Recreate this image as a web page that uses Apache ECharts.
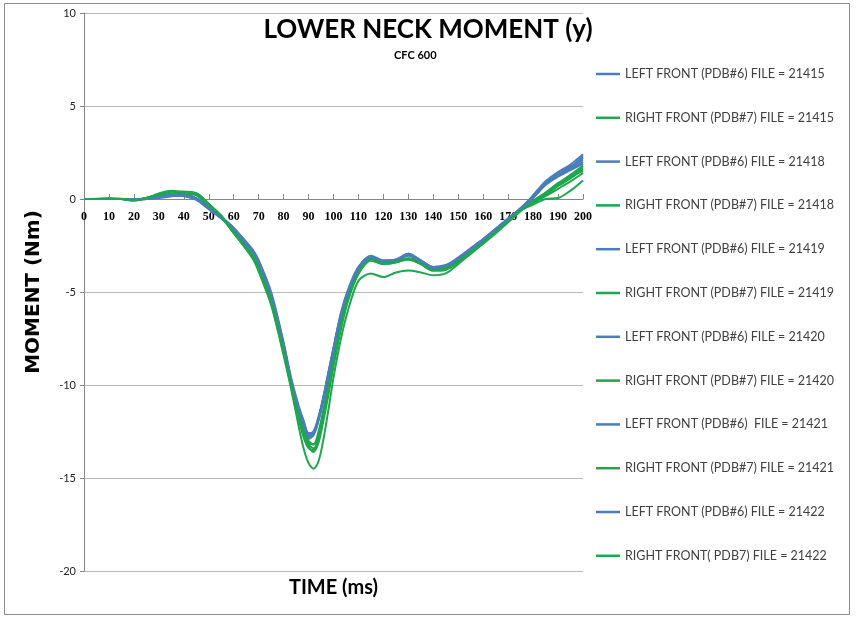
<!DOCTYPE html>
<html>
<head>
<meta charset="utf-8">
<title>LOWER NECK MOMENT (y)</title>
<script src="https://cdn.jsdelivr.net/npm/echarts@6/dist/echarts.min.js"></script>
<style>
    html, body {margin: 0; padding: 0; background: #fff;}
    #chart {width: 856px; height: 620px;}
</style>
</head>
<body>
<div id="chart"></div>
<script>
// time (ms)
let time = [0, 5, 10, 15, 20, 25, 30, 35, 40, 45, 50, 55, 60, 65, 68, 70, 75, 80, 83, 86, 88, 90, 92, 94, 96, 98,
    100, 103, 106, 110, 115, 120, 125, 130, 135, 140, 145, 150, 155, 160, 165, 170, 175, 180, 185, 190, 195, 200];

// moment (Nm), one list per test
let left21415 = [0, 0, 0, 0, 0, 0, 0.1, 0.2, 0.2, 0, -0.5, -1.0, -1.6, -2.4, -2.9, -3.4, -5.2, -7.9, -9.8, -11.3, -12.1, -12.7, -12.5, -11.7, -10.6, -9.3,
    -8.0, -6.2, -4.9, -3.7, -3.1, -3.35, -3.3, -3.0, -3.35, -3.7, -3.6, -3.2, -2.7, -2.2, -1.65, -1.1, -0.55, 0.1, 0.8, 1.3, 1.7, 2.3];
let right21415 = [0, 0, 0, 0, -0.05, 0.05, 0.25, 0.4, 0.35, 0.3, -0.3, -0.9, -1.8, -2.6, -3.1, -3.8, -5.5, -8.2, -10.0, -11.6, -12.5, -13.1, -13.2, -12.5, -11.3, -9.9,
    -8.5, -6.6, -5.1, -3.9, -3.2, -3.45, -3.35, -3.2, -3.45, -3.8, -3.75, -3.35, -2.85, -2.3, -1.75, -1.15, -0.55, -0.1, 0.3, 0.8, 1.2, 1.7];
let left21418 = [0, 0, 0.05, 0, 0, 0, 0.15, 0.25, 0.25, 0.05, -0.45, -0.95, -1.55, -2.35, -2.85, -3.3, -5.1, -7.8, -9.7, -11.2, -12.0, -12.6, -12.6, -11.9, -10.8, -9.5,
    -8.2, -6.3, -5.0, -3.75, -3.1, -3.3, -3.25, -2.95, -3.3, -3.65, -3.6, -3.15, -2.65, -2.15, -1.6, -1.05, -0.5, 0.2, 0.95, 1.45, 1.85, 2.4];
let right21418 = [0, 0.02, 0, 0, -0.05, 0.05, 0.2, 0.35, 0.35, 0.25, -0.35, -1.0, -1.8, -2.7, -3.2, -3.8, -5.6, -8.3, -10.1, -11.8, -12.8, -13.4, -13.5, -12.8, -11.6, -10.2,
    -8.8, -6.8, -5.3, -4.0, -3.3, -3.5, -3.4, -3.25, -3.5, -3.85, -3.8, -3.4, -2.9, -2.35, -1.8, -1.2, -0.6, -0.15, 0.2, 0.7, 1.1, 1.6];
let left21419 = [0, 0, 0, 0.02, -0.05, 0, 0.1, 0.2, 0.15, -0.05, -0.55, -1.05, -1.65, -2.45, -2.95, -3.45, -5.2, -7.9, -9.9, -11.4, -12.2, -12.8, -12.6, -11.8, -10.7, -9.4,
    -8.1, -6.2, -4.9, -3.7, -3.15, -3.4, -3.35, -3.05, -3.4, -3.75, -3.65, -3.25, -2.75, -2.2, -1.65, -1.1, -0.5, 0.15, 0.85, 1.25, 1.6, 2.0];
let right21419 = [0, 0, 0, 0, -0.1, 0.05, 0.25, 0.4, 0.4, 0.3, -0.25, -0.9, -1.8, -2.7, -3.3, -3.9, -5.7, -8.4, -10.2, -12.2, -13.4, -14.2, -14.5, -14.1, -12.9, -11.3,
    -9.6, -7.5, -5.9, -4.4, -4.0, -4.2, -3.95, -3.85, -3.95, -4.1, -4.0, -3.5, -2.95, -2.4, -1.85, -1.25, -0.65, -0.2, 0.15, 0.55, 0.95, 1.4];
let left21420 = [0, 0, 0, 0, 0, 0, 0.1, 0.15, 0.2, 0, -0.5, -1.0, -1.6, -2.4, -2.9, -3.4, -5.15, -7.85, -9.8, -11.3, -12.1, -12.9, -12.7, -11.9, -10.8, -9.5,
    -8.1, -6.3, -4.95, -3.7, -3.1, -3.35, -3.3, -3.0, -3.35, -3.7, -3.6, -3.2, -2.7, -2.2, -1.65, -1.1, -0.55, 0.05, 0.75, 1.2, 1.55, 1.9];
let right21420 = [0, 0, 0, 0, -0.05, 0.05, 0.3, 0.45, 0.35, 0.3, -0.3, -0.95, -1.85, -2.65, -3.1, -3.75, -5.5, -8.2, -10.0, -11.7, -12.7, -13.3, -13.6, -13.1, -11.9, -10.5,
    -9.0, -7.0, -5.4, -4.0, -3.25, -3.45, -3.35, -3.2, -3.45, -3.8, -3.75, -3.35, -2.85, -2.3, -1.75, -1.2, -0.6, -0.3, 0.0, 0.05, 0.45, 1.0];
let left21421 = [0, 0, 0, 0, -0.05, 0, 0.05, 0.15, 0.2, 0.05, -0.45, -0.95, -1.55, -2.3, -2.8, -3.3, -5.0, -7.7, -9.6, -11.1, -11.9, -12.6, -12.5, -11.8, -10.6, -9.3,
    -8.0, -6.1, -4.8, -3.65, -3.05, -3.3, -3.25, -2.95, -3.3, -3.65, -3.55, -3.15, -2.65, -2.15, -1.6, -1.05, -0.5, 0.15, 0.9, 1.4, 1.75, 2.1];
let right21421 = [0, 0, 0, 0, -0.05, 0.05, 0.2, 0.35, 0.3, 0.2, -0.35, -1.0, -1.75, -2.6, -3.15, -3.7, -5.4, -8.1, -9.9, -11.5, -12.4, -13.0, -13.2, -12.7, -11.5, -10.1,
    -8.7, -6.7, -5.2, -3.95, -3.25, -3.45, -3.4, -3.2, -3.45, -3.8, -3.75, -3.35, -2.85, -2.3, -1.75, -1.15, -0.6, -0.1, 0.35, 0.85, 1.3, 1.8];
let left21422 = [0, 0, 0, 0, 0, 0, 0.1, 0.2, 0.2, 0, -0.5, -1.0, -1.6, -2.4, -2.9, -3.4, -5.2, -7.9, -9.8, -11.3, -12.1, -12.7, -12.6, -11.8, -10.7, -9.4,
    -8.1, -6.2, -4.9, -3.7, -3.1, -3.35, -3.3, -3.0, -3.35, -3.7, -3.6, -3.2, -2.7, -2.2, -1.65, -1.1, -0.55, 0.1, 0.8, 1.3, 1.65, 2.2];
let right21422 = [0, 0, 0, 0, -0.05, 0.05, 0.25, 0.4, 0.35, 0.3, -0.3, -0.9, -1.8, -2.6, -3.1, -3.8, -5.5, -8.2, -10.0, -11.6, -12.6, -13.2, -13.4, -12.9, -11.7, -10.3,
    -8.8, -6.8, -5.3, -4.0, -3.3, -3.5, -3.4, -3.25, -3.5, -3.85, -3.8, -3.4, -2.9, -2.35, -1.8, -1.2, -0.6, -0.15, 0.25, 0.75, 1.2, 1.5];

let names = [
    'LEFT FRONT (PDB#6) FILE = 21415', 'RIGHT FRONT (PDB#7) FILE = 21415',
    'LEFT FRONT (PDB#6) FILE = 21418', 'RIGHT FRONT (PDB#7) FILE = 21418',
    'LEFT FRONT (PDB#6) FILE = 21419', 'RIGHT FRONT (PDB#7) FILE = 21419',
    'LEFT FRONT (PDB#6) FILE = 21420', 'RIGHT FRONT (PDB#7) FILE = 21420',
    'LEFT FRONT (PDB#6)  FILE = 21421', 'RIGHT FRONT (PDB#7) FILE = 21421',
    'LEFT FRONT (PDB#6) FILE = 21422', 'RIGHT FRONT( PDB7) FILE = 21422'
];
let values = [left21415, right21415, left21418, right21418, left21419, right21419,
    left21420, right21420, left21421, right21421, left21422, right21422];

let blue = '#4a7ebb', green = '#1fa64e';
let font = 'Lato, "Open Sans", sans-serif';

let series = values.map(function (list, i) {
    return {
        name: names[i],
        type: 'line',
        showSymbol: false,
        smooth: 0.3,
        lineStyle: {width: 2, color: i % 2 ? green : blue},
        itemStyle: {color: i % 2 ? green : blue},
        data: list.map(function (v, k) {
            return [time[k], v];
        })
    };
});

let chart = echarts.init(document.getElementById('chart'), null, {renderer: 'canvas'});
chart.setOption({
    animation: false,
    backgroundColor: '#fff',
    title: {
        text: 'LOWER NECK MOMENT (y)', left: 'center', top: 12,
        textStyle: {fontFamily: font, fontSize: 26, fontWeight: 'bold', color: '#000'}
    },
    graphic: [
        {type: 'rect', shape: {x: 4.5, y: 3.5, width: 845, height: 611}, style: {fill: 'none', stroke: '#8c8c8c', lineWidth: 1}, silent: true},
        {type: 'text', left: 394, top: 50, style: {text: 'CFC 600', font: 'bold 11px ' + font, fill: '#000'}}
    ],
    legend: {
        orient: 'vertical', left: 596, top: 64, itemGap: 23.8, padding: 0,
        icon: 'rect', itemWidth: 24, itemHeight: 2.5,
        textStyle: {fontFamily: font, fontSize: 12.5, color: '#404040', lineHeight: 20},
        data: names
    },
    grid: {left: 84, right: 273, top: 13, bottom: 49, outerBoundsMode: 'none'},
    xAxis: {
        // axis sits on the zero line: 372px above the grid bottom
        type: 'value', min: 0, max: 200, interval: 10, offset: -372,
        name: 'TIME (ms)', nameLocation: 'middle', nameGap: 379,
        nameTextStyle: {fontFamily: font, fontSize: 20, fontWeight: 'bold', color: '#000'},
        axisLine: {onZero: false, lineStyle: {color: '#868686'}},
        axisTick: {inside: true, length: 5, lineStyle: {color: '#868686'}},
        axisLabel: {margin: 12, fontFamily: '"Liberation Serif", serif', fontWeight: 'bold', fontSize: 12, color: '#000'},
        splitLine: {show: false}
    },
    yAxis: {
        type: 'value', min: -20, max: 10, interval: 5,
        name: 'MOMENT (Nm)', nameLocation: 'middle', nameGap: 40,
        nameTextStyle: {fontFamily: '"DejaVu Sans", sans-serif', fontSize: 20, fontWeight: 'bold', color: '#000'},
        axisLine: {show: true, lineStyle: {color: '#868686'}},
        axisTick: {show: true, length: 4, lineStyle: {color: '#868686'}},
        axisLabel: {margin: 8, fontFamily: font, fontSize: 11, color: '#222'},
        splitLine: {lineStyle: {color: '#b8b8b8'}}
    },
    series: series
});
</script>
</body>
</html>
